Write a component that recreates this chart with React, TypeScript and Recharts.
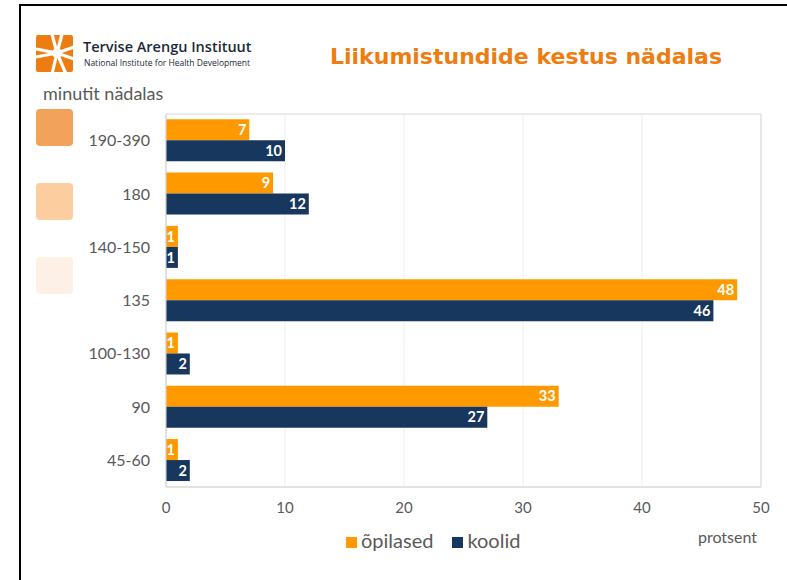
import React from 'react';
import { BarChart, Bar, XAxis, YAxis, CartesianGrid, Legend, LabelList, ReferenceArea } from 'recharts';

const categories = ['190-390', '180', '140-150', '135', '100-130', '90', '45-60'];
const opilased = [7, 9, 1, 48, 1, 33, 1];
const koolid = [10, 12, 1, 46, 2, 27, 2];
const xTicks = [0, 10, 20, 30, 40, 50];
const seriesNames = { opilased: 'õpilased', koolid: 'koolid' };
const seriesOrder = ['opilased', 'koolid'];

const data = categories.map((c, i) => ({ cat: c, opilased: opilased[i], koolid: koolid[i] }));

const ORANGE = '#FF9900';
const NAVY = '#17375E';
const GRAY = '#595959';
const FONT = 'Lato, "Open Sans", sans-serif';

function Logo() {
  const cx = 57;
  const cy = 53;
  const rays = [
    [36, 49],
    [52, 34],
    [62, 34],
    [74, 47],
    [74, 59],
    [52, 74],
    [66, 74],
    [36, 57],
  ];
  return (
    <svg width={80} height={80} style={{ position: 'absolute', left: 0, top: 0 }} viewBox="0 0 80 80">
      <rect x={36} y={35} width={37} height={37} rx={2} fill="#EE7D11" />
      {rays.map(([x, y], i) => (
        <line key={i} x1={cx} y1={cy} x2={x} y2={y} stroke="#fff" strokeWidth={3.2} />
      ))}
      <circle cx={cx} cy={cy} r={5} fill="#fff" />
    </svg>
  );
}

export default function App() {
  return (
    <div style={{ position: 'absolute', left: 0, top: 0, width: 787, height: 580, overflow: 'hidden', background: '#fff' }}>
      <div style={{ position: 'absolute', left: 19, top: 4, width: 800, height: 600, border: '2px solid #000', boxSizing: 'border-box' }} />
      <Logo />
      <div style={{ position: 'absolute', left: 83, top: 38, fontFamily: '"Open Sans", sans-serif', fontWeight: 600, fontSize: 14.5, color: '#1B2A3A', whiteSpace: 'nowrap', lineHeight: '18px' }}>
        Tervise Arengu Instituut
      </div>
      <div style={{ position: 'absolute', left: 84, top: 57, fontFamily: '"Open Sans", sans-serif', fontSize: 8.5, color: '#1B2A3A', whiteSpace: 'nowrap', lineHeight: '11px' }}>
        National Institute for Health Development
      </div>
      <div style={{ position: 'absolute', left: 526, top: 43, transform: 'translateX(-50%)', fontFamily: '"DejaVu Sans", sans-serif', fontWeight: 700, fontSize: 22, color: '#EE7D11', whiteSpace: 'nowrap', lineHeight: '28px' }}>
        Liikumistundide kestus nädalas
      </div>
      <div style={{ position: 'absolute', left: 43, top: 82, fontFamily: FONT, fontSize: 18, color: GRAY, whiteSpace: 'nowrap', lineHeight: '22px' }}>
        minutit nädalas
      </div>
      <div style={{ position: 'absolute', left: 36, top: 109, width: 37, height: 37, borderRadius: 4, background: '#F3A25C' }} />
      <div style={{ position: 'absolute', left: 36, top: 183, width: 37, height: 37, borderRadius: 4, background: '#FBCD9F' }} />
      <div style={{ position: 'absolute', left: 36, top: 257, width: 37, height: 37, borderRadius: 4, background: '#FDF1E7' }} />
      <div style={{ position: 'absolute', left: 0, top: 0 }}>
        <BarChart
          width={787}
          height={580}
          data={data}
          layout="vertical"
          margin={{ top: 114, right: 26, left: 0, bottom: 33 }}
          barCategoryGap="10%"
          barGap={0}
        >
          <CartesianGrid horizontal={false} vertical stroke="#EDEDED" />
          <ReferenceArea x1={0} x2={50} fill="none" stroke="#D9D9D9" strokeWidth={1} ifOverflow="visible" />
          <XAxis
            type="number"
            domain={[0, 50]}
            ticks={xTicks}
            interval={0}
            height={60}
            axisLine={{ stroke: '#D9D9D9' }}
            tickLine={false}
            tickSize={0}
            tickMargin={15}
            tick={{ fill: GRAY, fontSize: 15, fontFamily: FONT }}
            label={{ value: 'protsent', position: 'insideBottomRight', offset: 4, fill: GRAY, fontSize: 16, fontFamily: FONT }}
          />
          <YAxis
            type="category"
            dataKey="cat"
            width={166}
            axisLine={{ stroke: '#D9D9D9' }}
            tickLine={false}
            tickSize={0}
            tickMargin={16}
            tick={{ fill: GRAY, fontSize: 16, fontFamily: FONT }}
          />
          <Legend
            layout="horizontal"
            verticalAlign="middle"
            align="center"
            iconType="square"
            iconSize={11}
            itemSorter={(item: any) => seriesOrder.indexOf(item.dataKey)}
            wrapperStyle={{ top: 528, left: 346, width: 'auto', fontFamily: FONT, fontSize: 20 }}
            formatter={(value, entry: any) => (
              <span style={{ color: GRAY, marginRight: entry && entry.dataKey === 'opilased' ? 9 : 0 }}>{value}</span>
            )}
          />
          <Bar dataKey="opilased" name={seriesNames.opilased} fill={ORANGE} isAnimationActive={false}>
            <LabelList dataKey="opilased" position="insideRight" offset={3} fill="#fff" fontWeight={700} fontSize={14.5} fontFamily={FONT} />
          </Bar>
          <Bar dataKey="koolid" name={seriesNames.koolid} fill={NAVY} isAnimationActive={false}>
            <LabelList dataKey="koolid" position="insideRight" offset={3} fill="#fff" fontWeight={700} fontSize={14.5} fontFamily={FONT} />
          </Bar>
        </BarChart>
      </div>
    </div>
  );
}
